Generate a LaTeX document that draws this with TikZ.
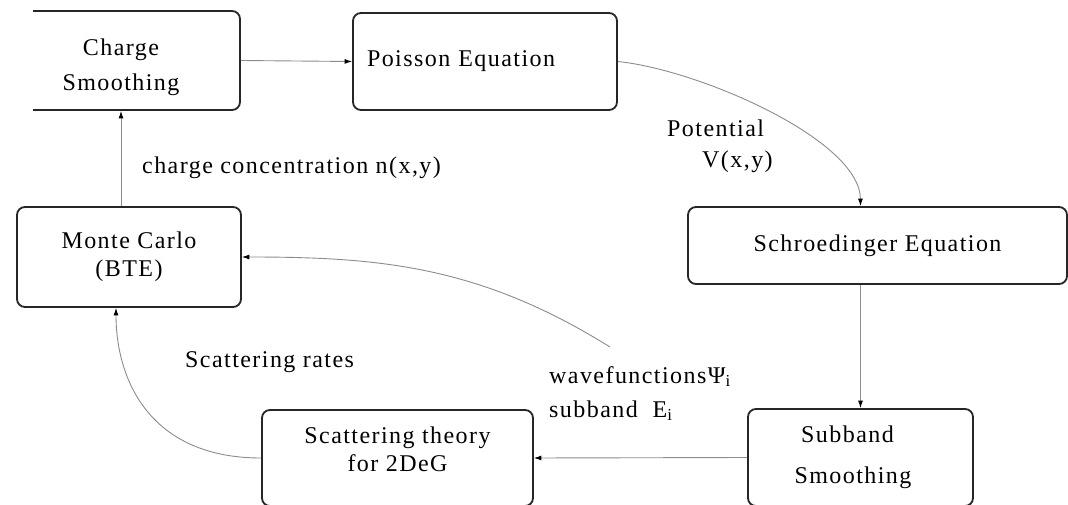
\documentclass[tikz,border=0pt]{standalone}
\usepackage{fontspec}
\setmainfont{Liberation Serif}[LetterSpace=6]
\usetikzlibrary{arrows.meta,calc}
\tikzset{
  box/.style={draw=black!85, line width=1.8pt, rounded corners=8pt, align=center,
    inner sep=0pt, font=\fontsize{24}{28}\selectfont},
  lbl/.style={font=\fontsize{24}{28}\selectfont, inner sep=0pt, align=left},
  conn/.style={draw=black!45, line width=0.9pt, -{Latex[length=7.5pt,width=5pt,color=black]}},
}
\begin{document}
\begin{tikzpicture}[x=1pt,y=-1pt]
\useasboundingbox (0,0) rectangle (1068,505);
\fill[white] (0,0) rectangle (1068,505);
\begin{scope}
  \clip (33,-5) rectangle (400,130);
  \node[box, minimum width=238pt, minimum height=99pt, text height=66pt] (cs) at (121,60.5) {Charge\\[7pt]Smoothing};
\end{scope}
\node[box, minimum width=264pt, minimum height=97pt, text width=236pt, align=left] (po) at (485,61.5) {Poisson Equation};
\node[box, minimum width=379pt, minimum height=77pt] (sch) at (877.5,245.5) {Schroedinger Equation};
\node[box, minimum width=224pt, minimum height=100pt] (mc) at (129,257) {Monte Carlo\\(BTE)};
\node[box, minimum width=271pt, minimum height=96pt, text depth=18pt] (sc) at (397.5,458) {Scattering theory\\for 2DeG};
\node[box, minimum width=225pt, minimum height=97pt] (sub) at (860.5,457.5) {Subband\hspace*{26pt}\\[13pt]Smoothing\hspace*{15pt}};

\node[lbl, anchor=base west] (lcc) at (142,174) {charge concentration n(x,y)};
\node[lbl, anchor=base west] (lpot) at (667,168) {Potential\\[3pt]\hspace*{35pt}V(x,y)};
\node[lbl, anchor=base west] (lsr) at (185,367) {Scattering rates};
\node[lbl, anchor=base west] (lwf) at (549,417) {wavefunctionsΨ\textsubscript{i}\\[6pt]subband\ \ E\textsubscript{i}};

\coordinate (wf) at (610,347);
\draw[conn] (cs.east) -- (po.west);
\draw[conn] (po.east) .. controls (700,70) and (860,140) .. (sch.north -| sub.north);
\draw[conn] (sch.south -| sub.north) -- (sub.north);
\draw[conn] (sub.west) -- (sc.east);
\draw[conn] (sc.west) .. controls (150,458) and (116,380) .. ($(mc.south)+(-13,0)$);
\draw[conn] (wf) .. controls (480,266) and (380,257) .. (mc.east);
\draw[conn] (mc.north -| cs.south) -- (cs.south);
\end{tikzpicture}
\end{document}
